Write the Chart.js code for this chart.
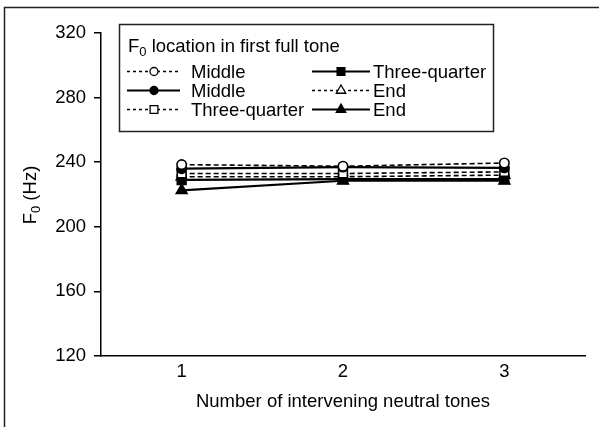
<!DOCTYPE html>
<html><head><meta charset="utf-8">
<script src="https://cdn.jsdelivr.net/npm/chart.js@4/dist/chart.umd.min.js"></script>
<style>html,body{margin:0;padding:0;background:#fff}#wrap{width:599px;height:427px;position:relative}</style>
</head><body><div id="wrap"><canvas id="c" width="599" height="427"></canvas></div>
<script>
// ---- data ----
const categories = ['1', '2', '3'];
const yTickValues = [120, 160, 200, 240, 280, 320];
const legendTitleMain = 'F';
const legendTitleSub = '0';
const legendTitleRest = ' location in first full tone';
const xTitle = 'Number of intervening neutral tones';
const yTitleMain = 'F';
const yTitleSub = '0';
const yTitleRest = ' (Hz)';

const seriesLabels = ['Middle', 'Middle', 'Three-quarter', 'Three-quarter', 'End', 'End'];
const middleDashed = [238.5, 237.5, 239.5];
const middleSolid = [236, 237, 236.5];
const threeQuarterDashed = [233, 233, 234];
const threeQuarterSolid = [229, 229.5, 229.5];
const endDashed = [231, 231, 232];
const endSolid = [222.5, 228.5, 228.5];

const FONT = '"Liberation Sans", Arial, Helvetica, sans-serif';
const FS = 18.5;
const SUB = 13;

function ds(label, data, dashed, style, filled) {
  const r = style === 'circle' ? 4.7 : 6.2;
  return {
    label, data,
    borderColor: '#000',
    borderWidth: dashed ? 1.6 : 2.2,
    borderDash: dashed ? [5, 3] : [],
    pointStyle: style,
    pointRadius: r,
    pointHoverRadius: r,
    pointBorderWidth: 1.6,
    pointBorderColor: '#000',
    pointBackgroundColor: filled ? '#000' : '#fff',
    tension: 0,
    fill: false,
    _dashed: dashed
  };
}

const datasets = [
  ds(seriesLabels[0], middleDashed, true, 'circle', false),
  ds(seriesLabels[1], middleSolid, false, 'circle', true),
  ds(seriesLabels[2], threeQuarterDashed, true, 'rect', false),
  ds(seriesLabels[3], threeQuarterSolid, false, 'rect', true),
  ds(seriesLabels[4], endDashed, true, 'triangle', false),
  ds(seriesLabels[5], endSolid, false, 'triangle', true)
];

const frameAndLegend = {
  id: 'frameAndLegend',
  afterDraw(chart) {
    const ctx = chart.ctx;
    ctx.save();
    // outer frame (left & top visible)
    ctx.strokeStyle = '#222';
    ctx.lineWidth = 1.5;
    ctx.beginPath();
    ctx.moveTo(4.5, 440); ctx.lineTo(4.5, 7.5); ctx.lineTo(610, 7.5);
    ctx.stroke();

    // y axis title (rotated, with subscript)
    ctx.fillStyle = '#000';
    ctx.translate(31, 195);
    ctx.rotate(-Math.PI / 2);
    ctx.textBaseline = 'middle';
    ctx.font = FS + 'px ' + FONT;
    const wF = ctx.measureText(yTitleMain).width;
    ctx.font = SUB + 'px ' + FONT;
    const w0 = ctx.measureText(yTitleSub).width;
    ctx.font = FS + 'px ' + FONT;
    const wR = ctx.measureText(yTitleRest).width;
    let x0 = -(wF + w0 + wR) / 2;
    ctx.textAlign = 'left';
    ctx.fillText(yTitleMain, x0, 0);
    ctx.font = SUB + 'px ' + FONT;
    ctx.fillText(yTitleSub, x0 + wF, 5);
    ctx.font = FS + 'px ' + FONT;
    ctx.fillText(yTitleRest, x0 + wF + w0, 0);
    ctx.setTransform(1, 0, 0, 1, 0, 0);

    // legend box
    ctx.strokeStyle = '#222';
    ctx.lineWidth = 1.5;
    ctx.fillStyle = '#fff';
    ctx.fillRect(119.5, 24.5, 374, 107);
    ctx.strokeRect(119.5, 24.5, 374, 107);
    ctx.fillStyle = '#000';
    ctx.textBaseline = 'middle';
    ctx.textAlign = 'left';
    ctx.font = FS + 'px ' + FONT;
    let tx = 128;
    ctx.fillText(legendTitleMain, tx, 47);
    tx += ctx.measureText(legendTitleMain).width;
    ctx.font = SUB + 'px ' + FONT;
    ctx.fillText(legendTitleSub, tx, 52);
    tx += ctx.measureText(legendTitleSub).width;
    ctx.font = FS + 'px ' + FONT;
    ctx.fillText(legendTitleRest, tx, 47);

    const cols = [
      { x1: 127, x2: 180, mx: 154, tx: 191 },
      { x1: 312, x2: 370, mx: 341, tx: 373 }
    ];
    chart.data.datasets.forEach((d, i) => {
      const c = cols[Math.floor(i / 3)];
      const y = 71.5 + (i % 3) * 19;
      ctx.strokeStyle = '#000';
      ctx.lineWidth = d._dashed ? 1.3 : 1.8;
      ctx.setLineDash(d._dashed ? [3, 3] : []);
      ctx.beginPath();
      ctx.moveTo(c.x1, y); ctx.lineTo(c.x2, y);
      ctx.stroke();
      ctx.setLineDash([]);
      ctx.fillStyle = d.pointBackgroundColor;
      ctx.strokeStyle = '#000';
      ctx.lineWidth = 1.3;
      Chart.helpers.drawPoint(ctx, {
        pointStyle: d.pointStyle,
        radius: d.pointStyle === 'circle' ? 4 : 5.5,
        borderWidth: 1.3,
        rotation: 0
      }, c.mx, y);
      ctx.fillStyle = '#000';
      ctx.font = FS + 'px ' + FONT;
      ctx.fillText(d.label, c.tx, y + 1);
    });
    ctx.restore();
  }
};

new Chart(document.getElementById('c'), {
  type: 'line',
  data: { labels: categories, datasets },
  plugins: [frameAndLegend],
  options: {
    responsive: false,
    animation: false,
    devicePixelRatio: 1,
    layout: { padding: { left: 0, right: 14, top: 33, bottom: 0 } },
    plugins: { legend: { display: false }, tooltip: { enabled: false } },
    scales: {
      x: {
        type: 'category',
        offset: true,
        grid: { display: false, drawTicks: false, tickLength: 0 },
        border: { display: true, color: '#000', width: 1.5 },
        ticks: { color: '#000', font: { family: FONT, size: FS }, padding: 5, maxRotation: 0 },
        title: { display: true, text: xTitle, color: '#000', font: { family: FONT, size: FS }, padding: { top: 0, bottom: 14 } },
        afterFit(scale) { scale.height = 71; }
      },
      y: {
        min: 120, max: 320,
        afterBuildTicks(scale) { scale.ticks = yTickValues.map(v => ({ value: v })); },
        grid: { display: true, drawOnChartArea: false, drawTicks: true, tickLength: 7, color: '#000', lineWidth: 1.5 },
        border: { display: true, color: '#000', width: 1.5 },
        ticks: { color: '#000', font: { family: FONT, size: FS }, padding: 8 },
        afterFit(scale) { scale.width = 101; }
      }
    }
  }
});
</script>
</body></html>
